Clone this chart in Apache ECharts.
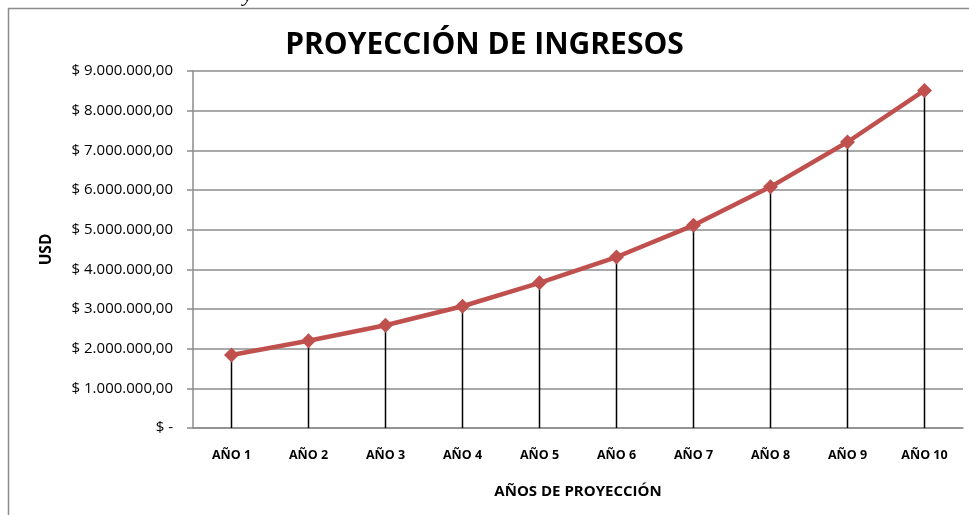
<!DOCTYPE html>
<html>
<head>
<meta charset="utf-8">
<script src="https://cdn.jsdelivr.net/npm/echarts@6/dist/echarts.min.js"></script>
<style>
    html, body { margin: 0; padding: 0; background: #fff; }
    #chart { width: 969px; height: 515px; }
</style>
</head>
<body>
<div id="chart"></div>
<script>
    // datos
    var anios = ['AÑO 1', 'AÑO 2', 'AÑO 3', 'AÑO 4', 'AÑO 5', 'AÑO 6', 'AÑO 7', 'AÑO 8', 'AÑO 9', 'AÑO 10'];
    var ingresos = [1840000, 2200000, 2590000, 3070000, 3660000, 4310000, 5110000, 6080000, 7210000, 8510000];
    var ejeMax = 9000000;
    var ejePaso = 1000000;

    function formatoUsd(v) {
        if (v === 0) {
            return '$ -';
        }
        var s = String(Math.round(v)).replace(/\B(?=(\d{3})+(?!\d))/g, '.');
        return '$ ' + s + ',00';
    }

    var chart = echarts.init(document.getElementById('chart'));
    var option = {
        animation: false,
        backgroundColor: '#fff',
        title: {
            text: 'PROYECCIÓN DE INGRESOS',
            left: 'center',
            top: 25,
            textStyle: {
                fontFamily: 'Open Sans',
                fontWeight: 'bold',
                fontSize: 30,
                color: '#000'
            }
        },
        graphic: [
            {
                type: 'rect',
                shape: { x: 8.5, y: 8.5, width: 980, height: 540 },
                style: { fill: 'none', stroke: '#8c8c8c', lineWidth: 1.5 },
                silent: true
            },
            {
                type: 'text',
                left: 243,
                top: -16,
                style: { text: 'y', font: 'italic 22px "Liberation Serif"', fill: '#000' }
            }
        ],
        grid: {
            left: 193,
            right: 6,
            top: 71,
            bottom: 87
        },
        xAxis: {
            type: 'category',
            data: anios,
            name: 'AÑOS DE PROYECCIÓN',
            nameLocation: 'middle',
            nameGap: 56,
            nameTextStyle: {
                fontFamily: 'Open Sans',
                fontWeight: 'bold',
                fontSize: 15,
                color: '#000'
            },
            axisLine: { lineStyle: { color: '#8c8c8c', width: 1.5 } },
            axisTick: { show: false },
            axisLabel: {
                margin: 21,
                fontFamily: 'Open Sans',
                fontWeight: 'bold',
                fontSize: 12.5,
                color: '#000'
            }
        },
        yAxis: {
            type: 'value',
            min: 0,
            max: ejeMax,
            interval: ejePaso,
            name: 'USD',
            nameLocation: 'middle',
            nameGap: 138,
            nameRotate: 90,
            nameTextStyle: {
                fontFamily: 'Open Sans',
                fontWeight: 'bold',
                fontSize: 15.5,
                color: '#000'
            },
            axisLine: { show: true, lineStyle: { color: '#8c8c8c', width: 1.5 } },
            axisTick: { show: true, inside: false, length: 6, lineStyle: { color: '#8c8c8c', width: 1.5 } },
            splitLine: { lineStyle: { color: '#8c8c8c', width: 1.5 } },
            axisLabel: {
                margin: 20,
                fontFamily: 'Open Sans',
                fontSize: 15,
                color: '#000',
                formatter: formatoUsd
            }
        },
        series: [
            {
                // lineas verticales hasta el eje
                type: 'bar',
                data: ingresos,
                barWidth: 1.5,
                itemStyle: { color: '#000' },
                silent: true,
                z: 1
            },
            {
                type: 'line',
                data: ingresos,
                symbol: 'diamond',
                symbolSize: 15,
                lineStyle: { color: '#c0504d', width: 4.5 },
                itemStyle: { color: '#c0504d' },
                z: 3
            }
        ]
    };
    chart.setOption(option);
</script>
</body>
</html>
